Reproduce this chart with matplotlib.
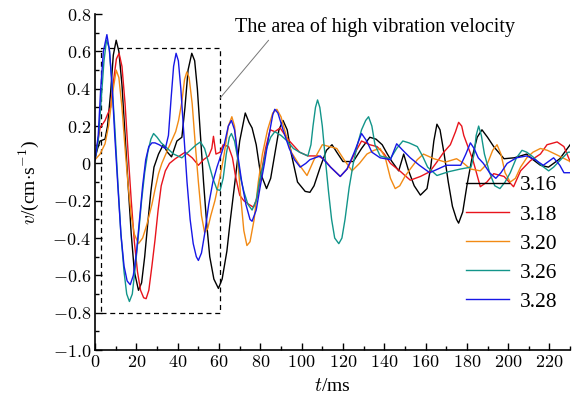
import matplotlib
matplotlib.use("Agg")
import matplotlib.pyplot as plt
from matplotlib.ticker import MultipleLocator, FuncFormatter
from matplotlib.patches import Rectangle

plt.rcParams['font.family'] = ['Liberation Serif', 'DejaVu Serif']
plt.rcParams['mathtext.fontset'] = 'cm'

# ---- data (t in ms, v in cm/s) ----
t_316 = [0, 1.2, 2.4, 4.8, 6, 7.5, 8.8, 10.2, 11.5, 13, 14.5, 16, 17.5, 19, 21, 22.5, 24, 25.5, 27, 28.5, 30.7, 33, 35,
         37, 39.6, 42, 43.5, 45, 46.8, 48.2, 49.5, 51, 52.5, 54, 55.5, 57.5, 59.7, 61.5, 63.8, 65.5, 67.8, 70, 72.7,
         74.5, 76, 78, 80, 83, 85, 87, 89, 91, 93, 95, 98, 101.7, 104, 106, 109, 112, 114.7, 117, 120, 125, 129, 133,
         136, 139, 141.5, 143.7, 147, 149.4, 151.8, 154.5, 157.5, 160.7, 162.5, 164, 165.5, 167, 169, 171, 173, 175,
         176, 178, 180, 182.5, 185, 187.3, 190, 193, 198, 203, 209, 212, 215.6, 219.5, 222, 225, 228, 230]
v_316 = [0.03, 0.08, 0.12, 0.13, 0.2, 0.38, 0.58, 0.66, 0.6, 0.42, 0.15, -0.12, -0.38, -0.58, -0.68, -0.64, -0.5, -0.32,
         -0.15, -0.02, 0.05, 0.1, 0.06, 0.035, 0.12, 0.14, 0.3, 0.5, 0.59, 0.55, 0.4, 0.15, -0.1, -0.32, -0.5, -0.62,
         -0.67, -0.62, -0.47, -0.3, -0.09, 0.12, 0.27, 0.22, 0.19, 0.1, -0.05, -0.135, -0.08, 0.05, 0.18, 0.23, 0.18,
         0.05, -0.1, -0.15, -0.155, -0.12, -0.02, 0.07, 0.1, 0.06, 0.01, 0.01, 0.08, 0.14, 0.13, 0.1, 0.05, 0.01,
         -0.04, 0.05, -0.04, -0.12, -0.17, -0.135, -0.02, 0.12, 0.21, 0.18, 0.05, -0.1, -0.23, -0.3, -0.32, -0.26,
         -0.12, 0.03, 0.14, 0.18, 0.14, 0.09, 0.025, 0.03, 0.05, 0.02, -0.01, -0.02, 0.0, 0.025, 0.07, 0.1]

t_318 = [0, 2.4, 4.8, 5.9, 7.5, 9, 10.3, 11.6, 13, 14.5, 16, 17.5, 19, 20.5, 22, 23.5, 24.7, 26, 27.5, 29, 30.5, 32, 34,
         36, 38.8, 43.6, 47, 50, 52.5, 55, 56.5, 57.3, 58.5, 60.5, 62, 64.6, 66.5, 68, 70, 72, 74.5, 76.7, 78.5, 80.5,
         82.5, 84.8, 87, 89.6, 92, 94.5, 99, 103, 108, 111, 114, 118.7, 122, 125.5, 129, 133, 136.5, 140, 143, 148,
         152.6, 157.5, 162, 166, 168.8, 172, 174.5, 176, 177.5, 178.5, 180, 183, 186.5, 189.7, 193, 198, 202.6, 206,
         210.8, 215.6, 218.8, 223.7, 227, 230]
v_318 = [0.03, 0.19, 0.23, 0.26, 0.3, 0.45, 0.56, 0.59, 0.52, 0.32, 0.05, -0.2, -0.42, -0.58, -0.68, -0.72, -0.725,
         -0.68, -0.55, -0.41, -0.25, -0.12, -0.04, 0.0, 0.025, 0.06, 0.03, -0.01, 0.02, 0.04, 0.08, 0.145, 0.05, 0.06,
         0.1, 0.09, 0.03, -0.07, -0.17, -0.2, -0.22, -0.235, -0.18, -0.05, 0.08, 0.18, 0.17, 0.19, 0.15, 0.115, 0.06,
         0.04, 0.04, 0.02, -0.02, -0.07, -0.03, 0.05, 0.12, 0.1, 0.09, 0.05, 0.0, -0.045, -0.09, -0.07, -0.045, 0.015,
         0.06, 0.1, 0.17, 0.22, 0.2, 0.15, 0.105, 0.015, -0.125, -0.1, -0.055, -0.07, -0.125, -0.04, 0.015, 0.05, 0.1,
         0.115, 0.09, 0.01]

t_320 = [0, 2.4, 4.8, 6.5, 8.5, 10.2, 11.5, 13, 14.5, 16, 17.5, 19, 21, 23, 25, 27.5, 29, 30.7, 32.3, 35, 37, 39, 40.4,
         42, 43.3, 44.4, 45.5, 47, 48.5, 50, 51.5, 53, 54.5, 56, 58, 60.5, 62.5, 64.5, 66.2, 67.5, 69, 70.5, 72, 73.5,
         75, 77, 79, 81, 83.5, 86, 88, 90, 92.5, 95, 99, 102.6, 106, 110, 117, 120.5, 124.4, 128, 131.6, 135, 138,
         140.5, 143, 145.3, 147.5, 150, 152.6, 156, 159, 164, 169.6, 175, 178.5, 181.7, 186.5, 190, 192.5, 194.6,
         196.5, 198.5, 201, 203.5, 206, 209, 212, 215.6, 219, 223.7, 230]
v_320 = [0.02, 0.05, 0.105, 0.2, 0.38, 0.5, 0.46, 0.3, 0.08, -0.12, -0.28, -0.38, -0.43, -0.4, -0.33, -0.22, -0.14,
         -0.055, 0.0, 0.07, 0.12, 0.17, 0.23, 0.33, 0.45, 0.49, 0.46, 0.32, 0.1, -0.1, -0.28, -0.37, -0.35, -0.28,
         -0.2, -0.07, 0.05, 0.2, 0.25, 0.2, 0.03, -0.18, -0.36, -0.44, -0.42, -0.3, -0.1, 0.05, 0.18, 0.27, 0.29, 0.25,
         0.15, 0.06, -0.01, -0.065, 0.02, 0.1, 0.08, 0.02, -0.04, 0.0, 0.05, 0.07, 0.08, 0.03, -0.08, -0.135, -0.12,
         -0.07, -0.03, 0.02, 0.05, 0.025, 0.007, 0.025, 0.0, -0.03, -0.04, 0.0, 0.07, 0.1, 0.05, -0.05, -0.1, -0.08,
         -0.02, 0.03, 0.06, 0.08, 0.07, 0.045, 0.01]

t_326 = [0, 1.5, 3, 4.3, 5.5, 6.8, 8, 9.5, 11, 12.5, 14, 15.3, 16.6, 18, 19.5, 21, 22.5, 24, 25.5, 27, 28.3, 30, 32, 34,
         38, 42, 46, 49, 51, 53, 55, 57, 59, 60.5, 62, 63.5, 65, 66, 67.5, 69, 70.5, 72, 74, 76, 78, 79.5, 81.5, 83, 85,
         87, 90, 93, 96, 99, 103, 104.5, 105.5, 106.7, 107.7, 108.8, 110, 111.5, 113, 114.5, 116, 118, 119.5, 121, 123,
         125, 127, 129, 131, 132.4, 134, 135.5, 138, 143, 146, 149, 152, 156, 158.5, 161, 165.5, 171, 177, 182, 183.5,
         184.5, 185.7, 187, 188.5, 191, 193.5, 196, 198.5, 201, 204, 206.7, 209, 212, 216, 219.6, 222, 225, 229, 230]
v_326 = [0.02, 0.12, 0.35, 0.55, 0.66, 0.62, 0.45, 0.2, -0.1, -0.38, -0.58, -0.7, -0.74, -0.7, -0.55, -0.38, -0.2,
         -0.05, 0.06, 0.13, 0.16, 0.14, 0.11, 0.09, 0.05, 0.03, 0.07, 0.1, 0.115, 0.08, 0.0, -0.08, -0.14, -0.145,
         -0.08, 0.05, 0.14, 0.16, 0.12, 0.03, -0.08, -0.15, -0.22, -0.25, -0.2, -0.1, 0.0, 0.08, 0.14, 0.17, 0.15, 0.12,
         0.08, 0.06, 0.04, 0.1, 0.2, 0.3, 0.34, 0.3, 0.2, 0.02, -0.15, -0.3, -0.4, -0.43, -0.4, -0.3, -0.13, 0.0, 0.1,
         0.18, 0.23, 0.25, 0.2, 0.1, 0.04, 0.025, 0.08, 0.12, 0.11, 0.09, 0.04, -0.02, -0.065, -0.045, -0.03, -0.02,
         0.05, 0.15, 0.2, 0.15, 0.05, -0.05, -0.12, -0.135, -0.1, -0.05, 0.03, 0.07, 0.06, 0.035, -0.01, -0.04, -0.02,
         0.015, 0.06, 0.06]

t_328 = [0, 1.5, 2.7, 4, 5.7, 7, 8.3, 9.5, 11, 12.5, 14, 15.5, 17, 18.5, 20, 21.5, 23, 24.5, 26, 27.5, 29, 31, 34, 35.5,
         36.8, 38, 39.2, 40.3, 41.5, 43, 44.5, 46, 47.5, 49, 50, 51.5, 53, 55, 57, 59, 60.5, 62.5, 64.5, 66, 67.5, 69,
         71, 73, 75, 76, 78, 80, 82, 84, 86, 87, 88.5, 91, 94, 96.5, 99.3, 102, 104, 109, 114, 118.7, 122, 125.5, 129,
         131.5, 134, 138, 143, 146, 149, 152.6, 157, 162, 166, 170, 177, 179.5, 181.7, 183.5, 185.5, 188, 191, 194,
         196.5, 199.5, 204, 209, 213, 217, 222, 225, 227, 230]
v_328 = [0.02, 0.15, 0.4, 0.6, 0.69, 0.6, 0.4, 0.15, -0.12, -0.38, -0.55, -0.63, -0.65, -0.6, -0.48, -0.3, -0.12, 0.02,
         0.09, 0.11, 0.11, 0.1, 0.08, 0.15, 0.35, 0.52, 0.59, 0.55, 0.4, 0.15, -0.1, -0.3, -0.43, -0.5, -0.52, -0.48,
         -0.38, -0.22, -0.1, -0.02, 0.03, 0.1, 0.2, 0.23, 0.18, 0.05, -0.1, -0.22, -0.3, -0.31, -0.25, -0.12, 0.0, 0.14,
         0.26, 0.29, 0.27, 0.18, 0.08, 0.02, -0.02, 0.0, 0.02, 0.04, -0.02, -0.07, -0.03, 0.06, 0.16, 0.12, 0.06, 0.03,
         0.02, 0.105, 0.07, 0.03, -0.01, -0.05, -0.03, -0.01, -0.01, 0.05, 0.11, 0.08, 0.03, 0.0, -0.05, -0.08, -0.05,
         0.0, 0.03, 0.04, 0.02, -0.01, 0.03, -0.01, -0.05, -0.05]

series = [
    ("3.16", t_316, v_316, "#000000"),
    ("3.18", t_318, v_318, "#e8141c"),
    ("3.20", t_320, v_320, "#f28a14"),
    ("3.26", t_326, v_326, "#12958a"),
    ("3.28", t_328, v_328, "#1717e6"),
]

box_t = [3, 60.5]
box_v = [-0.8, 0.62]
note_text = "The area of high vibration velocity"
note_xy = (67.5, 0.73)
leader_from = (84, 0.66)
leader_to = (60.5, 0.35)

fig = plt.figure(figsize=(5.8, 4.03), dpi=100)
ax = fig.add_axes([0.164, 0.1315, 0.819, 0.8335])

for lab, t, v, c in series:
    ax.plot(t, v, color=c, lw=1.0, label=lab)

ax.add_patch(Rectangle((box_t[0], box_v[0]), box_t[1] - box_t[0], box_v[1] - box_v[0],
                       fill=False, ls=(0, (4, 3)), lw=0.9, ec='black'))

ax.text(note_xy[0], note_xy[1], note_text, fontsize=14.5, ha='left', va='center')
ax.annotate("", xy=leader_to, xytext=leader_from,
            arrowprops=dict(arrowstyle='-', color='#777777', lw=0.7, shrinkA=0, shrinkB=0))

ax.set_xlim(0, 230)
ax.set_ylim(-1.0, 0.8)
ax.xaxis.set_major_locator(MultipleLocator(20))
ax.xaxis.set_minor_locator(MultipleLocator(10))
ax.yaxis.set_major_locator(MultipleLocator(0.2))
ax.yaxis.set_minor_locator(MultipleLocator(0.1))

def fmt_x(x, pos):
    return r"$%d$" % round(x)

def fmt_y(y, pos):
    if abs(y) < 1e-9:
        return r"$0$"
    return r"$%.1f$" % y

ax.xaxis.set_major_formatter(FuncFormatter(fmt_x))
ax.yaxis.set_major_formatter(FuncFormatter(fmt_y))
ax.tick_params(which='both', direction='in', top=False, right=False, labelsize=13, width=1.0)
ax.tick_params(which='major', length=5, pad=3)
ax.tick_params(which='minor', length=3)
for s in ['top', 'right']:
    ax.spines[s].set_visible(False)
for s in ['left', 'bottom']:
    ax.spines[s].set_linewidth(1.2)

ax.set_xlabel(r"$t$/ms", fontsize=14, labelpad=5)
ax.set_ylabel(r"$v$/(cm$\cdot$s$^{-1}$)", fontsize=14, labelpad=8)

leg = ax.legend(loc='lower right', bbox_to_anchor=(1.0, 0.075), frameon=False, fontsize=15.5,
                handlelength=2.0, labelspacing=0.42, handletextpad=0.5, borderaxespad=0.2)

fig.savefig("out.png", dpi=100)
